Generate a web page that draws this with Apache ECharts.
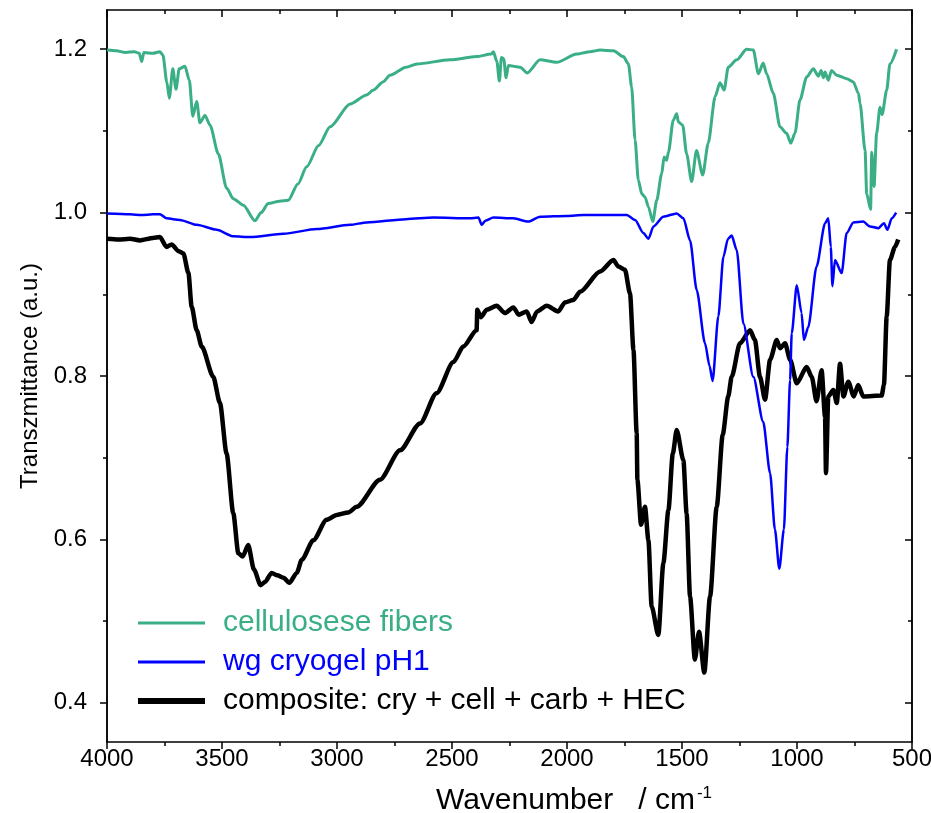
<!DOCTYPE html>
<html>
<head>
<meta charset="utf-8">
<title>FTIR spectra</title>
<script src="https://cdn.jsdelivr.net/npm/echarts@6/dist/echarts.min.js"></script>
<style>
  html, body { margin: 0; padding: 0; background: #fff; }
  #chart { width: 931px; height: 813px; }
</style>
</head>
<body>
<div id="chart"></div>
<script>
// Wavenumbers (cm^-1) and transmittance values for each spectrum
const cellWn = [4000,3960,3920,3880,3860,3849,3840,3800,3770,3757,3740,3729,3714,3700,3686,3661,3642,3627,3610,3596,3574,3552,3516,3480,3451,3407,3357,3330,3299,3250,3212,3170,3132,3080,3030,2943,2871,2842,2800,2770,2700,2653,2509,2393,2330,2320,2305,2294,2285,2275,2265,2255,2204,2173,2117,2045,1958,1900,1856,1798,1755,1733,1719,1704,1690,1675,1661,1646,1627,1610,1588,1578,1567,1559,1538,1523,1516,1497,1480,1458,1437,1410,1386,1356,1335,1317,1299,1262,1219,1190,1168,1147,1132,1103,1074,1045,1027,1009,987,958,929,907,895,885,878,864,850,827,784,755,733,726,704,697,680,675,665,654,639,630,610,596,567];
const cellT = [1.199,1.198,1.196,1.197,1.195,1.185,1.196,1.195,1.197,1.193,1.160,1.140,1.176,1.151,1.176,1.179,1.162,1.118,1.136,1.110,1.119,1.107,1.072,1.030,1.017,1.009,0.990,1.000,1.011,1.014,1.015,1.035,1.056,1.082,1.105,1.133,1.144,1.150,1.160,1.168,1.178,1.182,1.187,1.191,1.194,1.197,1.185,1.161,1.190,1.188,1.165,1.180,1.178,1.171,1.187,1.184,1.194,1.197,1.199,1.198,1.191,1.182,1.154,1.089,1.040,1.023,1.019,1.007,0.989,1.015,1.048,1.068,1.064,1.074,1.113,1.121,1.111,1.107,1.072,1.038,1.076,1.046,1.085,1.142,1.159,1.150,1.178,1.187,1.200,1.199,1.170,1.183,1.170,1.146,1.105,1.097,1.085,1.097,1.138,1.166,1.176,1.167,1.174,1.165,1.172,1.162,1.174,1.168,1.164,1.160,1.146,1.134,1.076,1.023,1.004,1.074,1.032,1.097,1.129,1.120,1.150,1.182,1.200];

const cryoWn = [4000,3900,3850,3800,3770,3741,3683,3610,3523,3451,3378,3233,3088,2943,2871,2700,2581,2422,2385,2371,2355,2320,2233,2168,2117,2000,1929,1740,1704,1668,1646,1624,1581,1523,1494,1465,1436,1400,1380,1367,1342,1320,1300,1284,1262,1233,1190,1147,1117,1096,1077,1057,1042,1030,1023,1001,980,970,951,915,878,864,853,846,835,806,784,755,712,683,646,622,607,588,569];
const cryoT = [0.999,0.998,0.997,0.998,0.998,0.993,0.991,0.985,0.979,0.971,0.970,0.974,0.980,0.985,0.988,0.992,0.994,0.993,0.994,0.985,0.990,0.994,0.993,0.989,0.995,0.996,0.997,0.997,0.991,0.975,0.968,0.983,0.995,0.999,0.993,0.966,0.905,0.840,0.812,0.794,0.873,0.946,0.968,0.972,0.954,0.864,0.799,0.744,0.681,0.612,0.564,0.612,0.713,0.795,0.852,0.911,0.877,0.844,0.860,0.934,0.987,0.993,0.958,0.910,0.942,0.926,0.975,0.988,0.989,0.983,0.981,0.987,0.979,0.993,1.000];

const compWn = [4000,3950,3900,3857,3800,3770,3741,3719,3690,3668,3646,3632,3610,3588,3538,3509,3480,3451,3429,3410,3386,3361,3332,3313,3284,3260,3233,3207,3175,3153,3103,3045,3001,2951,2914,2813,2726,2639,2567,2494,2451,2393,2390,2375,2349,2306,2270,2233,2210,2175,2154,2130,2088,2038,2009,1973,1943,1856,1798,1777,1748,1726,1711,1697,1694,1678,1661,1646,1632,1603,1581,1559,1540,1523,1494,1480,1465,1444,1426,1403,1378,1349,1323,1299,1284,1248,1204,1183,1161,1139,1117,1088,1074,1052,1030,1001,958,936,915,893,878,874,864,842,827,813,798,777,753,734,712,632,622,610,596,574,560];
const compT = [0.968,0.967,0.968,0.966,0.969,0.970,0.958,0.961,0.953,0.950,0.926,0.885,0.856,0.836,0.799,0.767,0.705,0.632,0.583,0.579,0.593,0.563,0.544,0.548,0.559,0.556,0.553,0.547,0.559,0.575,0.599,0.624,0.630,0.633,0.640,0.673,0.709,0.742,0.779,0.817,0.836,0.856,0.881,0.872,0.881,0.886,0.877,0.884,0.875,0.879,0.866,0.879,0.886,0.879,0.890,0.893,0.903,0.928,0.942,0.934,0.930,0.901,0.832,0.730,0.673,0.618,0.640,0.599,0.518,0.483,0.571,0.636,0.705,0.734,0.697,0.632,0.530,0.453,0.487,0.437,0.530,0.640,0.728,0.775,0.799,0.840,0.856,0.844,0.799,0.771,0.820,0.844,0.834,0.840,0.820,0.791,0.811,0.799,0.769,0.807,0.750,0.681,0.775,0.783,0.767,0.815,0.775,0.793,0.775,0.789,0.775,0.776,0.789,0.873,0.942,0.958,0.967];

const seriesNames = ['cellulosese fibers', 'wg cryogel pH1', 'composite: cry + cell + carb + HEC'];
const yMajor = [0.4, 0.6, 0.8, 1.0, 1.2];
const yMinor = [0.5, 0.7, 0.9, 1.1];

const GREEN = '#3aaf85', BLUE = '#0000ff', BLACK = '#000000';
const FONT = 'Liberation Sans, Arial, sans-serif';

const zip = (xs, ys) => xs.map((x, i) => [x, ys[i]]);

const Y_MIN = 0.352, Y_MAX = 1.248;

const xBase = {
  type: 'value', min: 500, max: 4000, interval: 500, inverse: true,
  splitLine: { show: false },
  axisLine: { lineStyle: { color: '#000', width: 1.5 } },
  minorTick: { show: true, splitNumber: 2, length: 4, lineStyle: { color: '#000', width: 1.5 } }
};
const yBase = {
  type: 'value', min: Y_MIN, max: Y_MAX,
  splitLine: { show: false },
  axisLine: { show: true, onZero: false, lineStyle: { color: '#000', width: 1.5 } }
};

// one legend block per series so each key line gets its own thickness
const legendRow = (name, color, thickness, top) => ({
  orient: 'vertical', left: 138, top: top, padding: 0,
  icon: 'rect', itemWidth: 67, itemHeight: thickness,
  textStyle: { fontSize: 30, fontFamily: FONT, lineHeight: 30, color: color, padding: [0, 0, 0, 13] },
  data: [{ name: name, itemStyle: { color: color } }]
});

const chart = echarts.init(document.getElementById('chart'), null, { renderer: 'canvas' });
chart.setOption({
  animation: false,
  backgroundColor: '#fff',
  textStyle: { fontFamily: FONT },
  grid: { left: 107, right: 19, top: 10, bottom: 71, containLabel: false, outerBoundsMode: 'none' },
  xAxis: [
    Object.assign({}, xBase, {
      position: 'bottom',
      name: '{n|Wavenumber   / cm}{s|-1}',
      nameLocation: 'middle', nameGap: 43,
      nameTextStyle: {
        padding: [0, 0, 0, 129],
        rich: {
          n: { fontSize: 30, fontFamily: FONT, color: '#000', lineHeight: 32 },
          s: { fontSize: 17, fontFamily: FONT, color: '#000', verticalAlign: 'top', lineHeight: 32, padding: [0, 0, 0, 2] }
        }
      },
      axisTick: { show: true, inside: false, length: 7, lineStyle: { color: '#000', width: 1.5 } },
      axisLabel: { show: true, margin: 5, fontSize: 24, fontFamily: FONT, color: '#000',
                   formatter: v => String(v) }
    }),
    Object.assign({}, xBase, {
      position: 'top',
      axisTick: { show: true, inside: true, length: 7, lineStyle: { color: '#000', width: 1.5 } },
      axisLabel: { show: false }
    })
  ],
  yAxis: [
    Object.assign({}, yBase, {
      position: 'left',
      name: 'Transzmittance (a.u.)',
      nameLocation: 'middle', nameGap: 64, nameRotate: 90,
      nameTextStyle: { fontSize: 24, fontFamily: FONT, color: '#000' },
      axisTick: { show: true, inside: false, length: 7, customValues: yMajor, lineStyle: { color: '#000', width: 1.5 } },
      axisLabel: { show: true, margin: 20, fontSize: 24, fontFamily: FONT, color: '#000', customValues: yMajor,
                   formatter: v => Number(v).toFixed(1) }
    }),
    Object.assign({}, yBase, {
      position: 'left',
      axisTick: { show: true, inside: false, length: 4, customValues: yMinor, lineStyle: { color: '#000', width: 1.5 } },
      axisLabel: { show: false }
    }),
    Object.assign({}, yBase, {
      position: 'right',
      axisTick: { show: true, inside: true, length: 7, customValues: yMajor, lineStyle: { color: '#000', width: 1.5 } },
      axisLabel: { show: false }
    }),
    Object.assign({}, yBase, {
      position: 'right',
      axisTick: { show: true, inside: true, length: 4, customValues: yMinor, lineStyle: { color: '#000', width: 1.5 } },
      axisLabel: { show: false }
    })
  ],
  legend: [
    legendRow(seriesNames[0], GREEN, 3, 608),
    legendRow(seriesNames[1], BLUE, 3, 647),
    legendRow(seriesNames[2], BLACK, 6, 686)
  ],
  series: [
    { name: seriesNames[0], type: 'line', data: zip(cellWn, cellT), symbol: 'none', z: 4,
      smooth: 0.25, smoothMonotone: 'x',
      color: GREEN, lineStyle: { color: GREEN, width: 3 } },
    { name: seriesNames[1], type: 'line', data: zip(cryoWn, cryoT), symbol: 'none', z: 3,
      smooth: 0.25, smoothMonotone: 'x',
      color: BLUE, lineStyle: { color: BLUE, width: 2.5 } },
    { name: seriesNames[2], type: 'line', data: zip(compWn, compT), symbol: 'none', z: 2,
      smooth: 0.25, smoothMonotone: 'x',
      color: BLACK, lineStyle: { color: BLACK, width: 4.5 } }
  ]
});
</script>
</body>
</html>
